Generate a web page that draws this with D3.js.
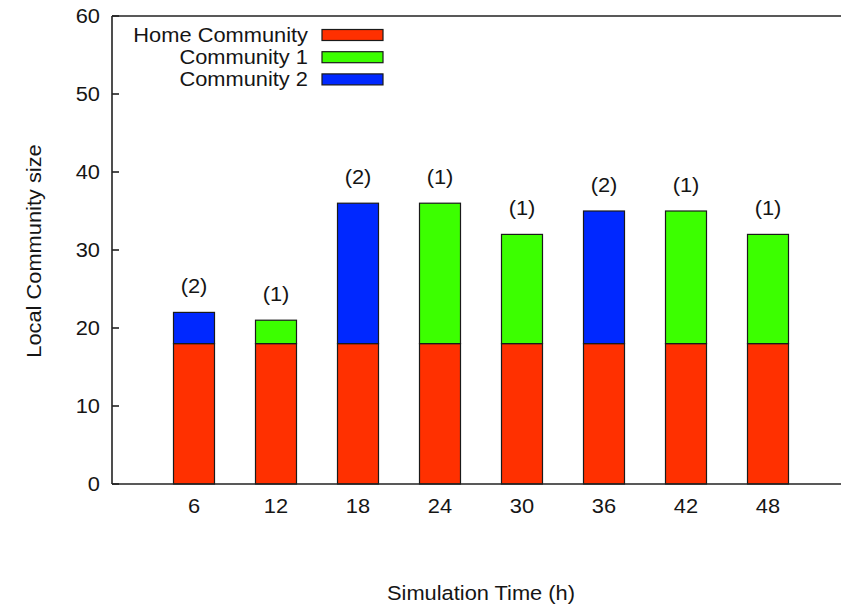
<!DOCTYPE html>
<html>
<head>
<meta charset="utf-8">
<script src="https://cdn.jsdelivr.net/npm/d3@7"></script>
<style>
  html, body { margin: 0; padding: 0; background: #fff; }
  svg { display: block; }
  text { font-family: "Liberation Sans", Arial, Helvetica, sans-serif; fill: #151515; }
</style>
</head>
<body>
<svg id="chart" width="841" height="606"></svg>
<script>
// Simulation hours and community membership at each snapshot
const hours = [6, 12, 18, 24, 30, 36, 42, 48];
const homeCommunity = [18, 18, 18, 18, 18, 18, 18, 18];
const community1 = [0, 3, 0, 18, 14, 0, 17, 14];
const community2 = [4, 0, 18, 0, 0, 17, 0, 0];
const communityCount = ["(2)", "(1)", "(2)", "(1)", "(1)", "(2)", "(1)", "(1)"];
const yTicks = [0, 10, 20, 30, 40, 50, 60];
const seriesNames = ["Home Community", "Community 1", "Community 2"];
const seriesColors = ["#ff3000", "#3cff00", "#0028ff"];

const svg = d3.select("#chart");
const FS = 19.5, SX = 1.12;

const x = d3.scaleLinear().domain([0, 54]).range([112, 850]);
const y = d3.scaleLinear().domain([0, 60]).range([484, 16]);
const barW = x(3) - x(0);

// text drawn with a slight horizontal stretch
function label(g, tx, ty, str, anchor, rot) {
  return g.append("text")
    .attr("transform", `translate(${tx},${ty})` + (rot ? ` rotate(${rot})` : "") + ` scale(${SX},1)`)
    .attr("text-anchor", anchor)
    .style("font-size", FS + "px")
    .text(str);
}

// stacked bars
const rows = hours.map((h, i) => ({
  h, segs: [
    { y0: 0, y1: homeCommunity[i], c: seriesColors[0] },
    { y0: homeCommunity[i], y1: homeCommunity[i] + community1[i], c: seriesColors[1] },
    { y0: homeCommunity[i] + community1[i], y1: homeCommunity[i] + community1[i] + community2[i], c: seriesColors[2] }
  ].filter(s => s.y1 > s.y0), total: homeCommunity[i] + community1[i] + community2[i], lab: communityCount[i]
}));

const bars = svg.append("g");
rows.forEach(r => {
  r.segs.forEach(s => {
    bars.append("rect")
      .attr("x", x(r.h) - barW / 2)
      .attr("y", y(s.y1))
      .attr("width", barW)
      .attr("height", y(s.y0) - y(s.y1))
      .attr("fill", s.c)
      .attr("stroke", "#1a1a1a")
      .attr("stroke-width", 1.2);
  });
  label(svg, x(r.h), y(r.total) - 19, r.lab, "middle");
});

// frame
const frame = svg.append("g").attr("fill", "none").attr("stroke", "#222").attr("stroke-width", 1.6);
frame.append("line").attr("x1", x(0)).attr("x2", x(0)).attr("y1", y(0)).attr("y2", y(60));
frame.append("line").attr("x1", x(0)).attr("x2", 841).attr("y1", y(0)).attr("y2", y(0));
frame.append("line").attr("x1", x(0)).attr("x2", 841).attr("y1", y(60)).attr("y2", y(60));

// y ticks (inward) and labels
yTicks.forEach(t => {
  frame.append("line").attr("x1", x(0)).attr("x2", x(0) + 7).attr("y1", y(t)).attr("y2", y(t));
  label(svg, 100, y(t) + 7, String(t), "end");
});

// x tick labels
hours.forEach(h => label(svg, x(h), 513, String(h), "middle"));

// axis titles
label(svg, 481, 600, "Simulation Time (h)", "middle");
label(svg, 41, 251, "Local Community size", "middle", -90);

// legend
const leg = svg.append("g");
seriesNames.forEach((n, i) => {
  const cy = 35 + i * 22.2;
  label(leg, 308, cy + 7, n, "end");
  leg.append("rect")
    .attr("x", 322).attr("y", cy - 5.5)
    .attr("width", 61).attr("height", 11)
    .attr("fill", seriesColors[i])
    .attr("stroke", "#1a1a1a").attr("stroke-width", 1.2);
});
</script>
</body>
</html>
